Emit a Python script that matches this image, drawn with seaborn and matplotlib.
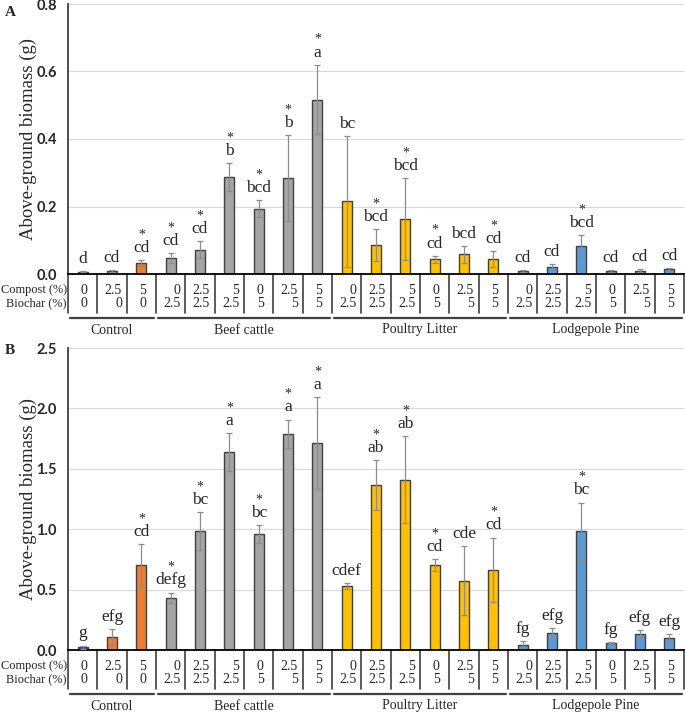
import numpy as np
import pandas as pd
import matplotlib
matplotlib.use('Agg')
import matplotlib.pyplot as plt
import seaborn as sns

# treatments (21 bars)
compost = ['0', '2.5', '5'] + ['0', '2.5', '5'] * 6
biochar = ['0', '0', '0'] + (['2.5'] * 3 + ['5'] * 3) * 3
groups = ['Control', 'Beef cattle', 'Poultry Litter', 'Lodgepole Pine']
group_sizes = [3, 6, 6, 6]
bar_colors = (['#2F5597'] + ['#ED7D31'] * 2 + ['#A5A5A5'] * 6
              + ['#FFC000'] * 6 + ['#5B9BD5'] * 6)

# panel A
biomass_a = [0.007, 0.009, 0.033, 0.048, 0.072, 0.287, 0.194, 0.284, 0.517,
             0.215, 0.086, 0.163, 0.044, 0.058, 0.045,
             0.008, 0.022, 0.082, 0.008, 0.010, 0.014]
err_a = [0.002, 0.002, 0.008, 0.014, 0.026, 0.042, 0.025, 0.128, 0.103,
         0.193, 0.047, 0.121, 0.010, 0.024, 0.023,
         0.003, 0.007, 0.033, 0.003, 0.004, 0.004]
letters_a = ['d', 'cd', 'cd', 'cd', 'cd', 'b', 'bcd', 'b', 'a',
             'bc', 'bcd', 'bcd', 'cd', 'bcd', 'cd',
             'cd', 'cd', 'bcd', 'cd', 'cd', 'cd']
star_a = [0, 0, 1, 1, 1, 1, 1, 1, 1,
          0, 1, 1, 1, 0, 1,
          0, 0, 1, 0, 0, 0]

# panel B
biomass_b = [0.022, 0.104, 0.706, 0.434, 0.986, 1.64, 0.962, 1.79, 1.714,
             0.530, 1.365, 1.409, 0.700, 0.574, 0.665,
             0.044, 0.140, 0.981, 0.060, 0.132, 0.099]
err_b = [0.014, 0.066, 0.173, 0.041, 0.157, 0.157, 0.074, 0.118, 0.379,
         0.025, 0.206, 0.360, 0.050, 0.286, 0.266,
         0.027, 0.038, 0.239, 0.003, 0.030, 0.033]
letters_b = ['g', 'efg', 'cd', 'defg', 'bc', 'a', 'bc', 'a', 'a',
             'cdef', 'ab', 'ab', 'cd', 'cde', 'cd',
             'fg', 'efg', 'bc', 'fg', 'efg', 'efg']
star_b = [0, 0, 1, 1, 1, 1, 1, 1, 1,
          0, 1, 1, 1, 0, 1,
          0, 0, 1, 0, 0, 0]

sns.set_style("white")
serif = 'Liberation Serif'
sans = 'Lato'

fig = plt.figure(figsize=(6.85, 7.14), dpi=100)
ax_a = fig.add_axes([68 / 685, 1 - 274 / 714, 616 / 685, 270 / 714])
ax_b = fig.add_axes([68 / 685, 1 - 650 / 714, 616 / 685, 302 / 714])


def draw_panel(ax, vals, errs, letters, stars, ymax, step):
    df = pd.DataFrame({'pos': range(len(vals)), 'biomass': vals})
    sns.barplot(data=df, x='pos', y='biomass', hue='pos', palette=bar_colors,
                legend=False, width=0.33, edgecolor='#404040', linewidth=1,
                saturation=1, ax=ax, zorder=2)
    ax.errorbar(df['pos'], df['biomass'], yerr=errs, fmt='none',
                ecolor='#8c8c8c', elinewidth=0.9, capsize=2, capthick=0.9, zorder=3)
    ax.set_xlim(-0.5, len(vals) - 0.5)
    ax.set_ylim(0, ymax)
    ticks = np.arange(0, ymax + step / 2, step)
    ax.set_yticks(ticks)
    ax.set_yticklabels([f'{t:.1f}' for t in ticks],
                       fontfamily=sans, fontweight='bold', fontsize=10.5)
    ax.set_xticks([])
    ax.set_xlabel('')
    ax.set_ylabel('Above-ground biomass (g)', fontfamily=serif, fontsize=13.5)
    ax.yaxis.set_label_coords(-0.05, 0.5)
    ax.grid(axis='y', color='#d9d9d9', lw=0.8, zorder=0)
    ax.set_axisbelow(True)
    ax.tick_params(axis='y', length=0, pad=8)
    for s in ['top', 'right']:
        ax.spines[s].set_visible(False)
    ax.spines['left'].set_color('#404040')
    ax.spines['left'].set_linewidth(1.3)
    ax.spines['bottom'].set_color('black')
    ax.spines['bottom'].set_linewidth(1.3)

    for i, (v, e, l, s) in enumerate(zip(vals, errs, letters, stars)):
        top = v + e
        ax.annotate(l, xy=(i, top), xytext=(0, 3), textcoords='offset points',
                    ha='center', va='bottom', fontfamily=serif, fontsize=12.5)
        if s:
            ax.annotate('*', xy=(i, top), xytext=(0, 13.5), textcoords='offset points',
                        ha='center', va='bottom', fontfamily=serif, fontsize=10)

    # treatment table under the axis
    h = ax.get_position().height * fig.get_size_inches()[1] * fig.dpi
    fy = lambda px: -px / h
    tr = ax.get_xaxis_transform()
    for k in range(len(vals) + 1):
        ax.plot([k - 0.5, k - 0.5], [0, fy(39)], transform=tr, clip_on=False,
                color='#404040', lw=1.2)
    for i, (c, b) in enumerate(zip(compost, biochar)):
        ax.text(i + 0.05, fy(23), f'{c}\n{b}', transform=tr, ha='center', va='center',
                multialignment='right', linespacing=1.0,
                fontfamily=serif, fontsize=10)
    ax.text(-0.002, fy(16.5), 'Compost (%)', transform=ax.transAxes, ha='right',
            va='center', fontfamily=serif, fontsize=8.9)
    ax.text(-0.002, fy(29.5), 'Biochar (%)', transform=ax.transAxes, ha='right',
            va='center', fontfamily=serif, fontsize=8.9)
    start = 0
    for g, n in zip(groups, group_sizes):
        x0, x1 = start - 0.5 + 0.07, start + n - 0.5 - 0.07
        ax.plot([x0, x1], [fy(44), fy(44)], transform=tr, clip_on=False,
                color='#404040', lw=1.6)
        ax.text((x0 + x1) / 2, fy(56), g, transform=tr, ha='center', va='center',
                fontfamily=serif, fontsize=10)
        start += n


draw_panel(ax_a, biomass_a, err_a, letters_a, star_a, 0.8, 0.2)
draw_panel(ax_b, biomass_b, err_b, letters_b, star_b, 2.5, 0.5)

fig.text(5 / 685, 1 - 12 / 714, 'A', fontfamily=serif, fontweight='bold',
         fontsize=11, va='center', ha='left')
fig.text(5 / 685, 1 - 350 / 714, 'B', fontfamily=serif, fontweight='bold',
         fontsize=11, va='center', ha='left')

fig.savefig('out.png', dpi=100)
